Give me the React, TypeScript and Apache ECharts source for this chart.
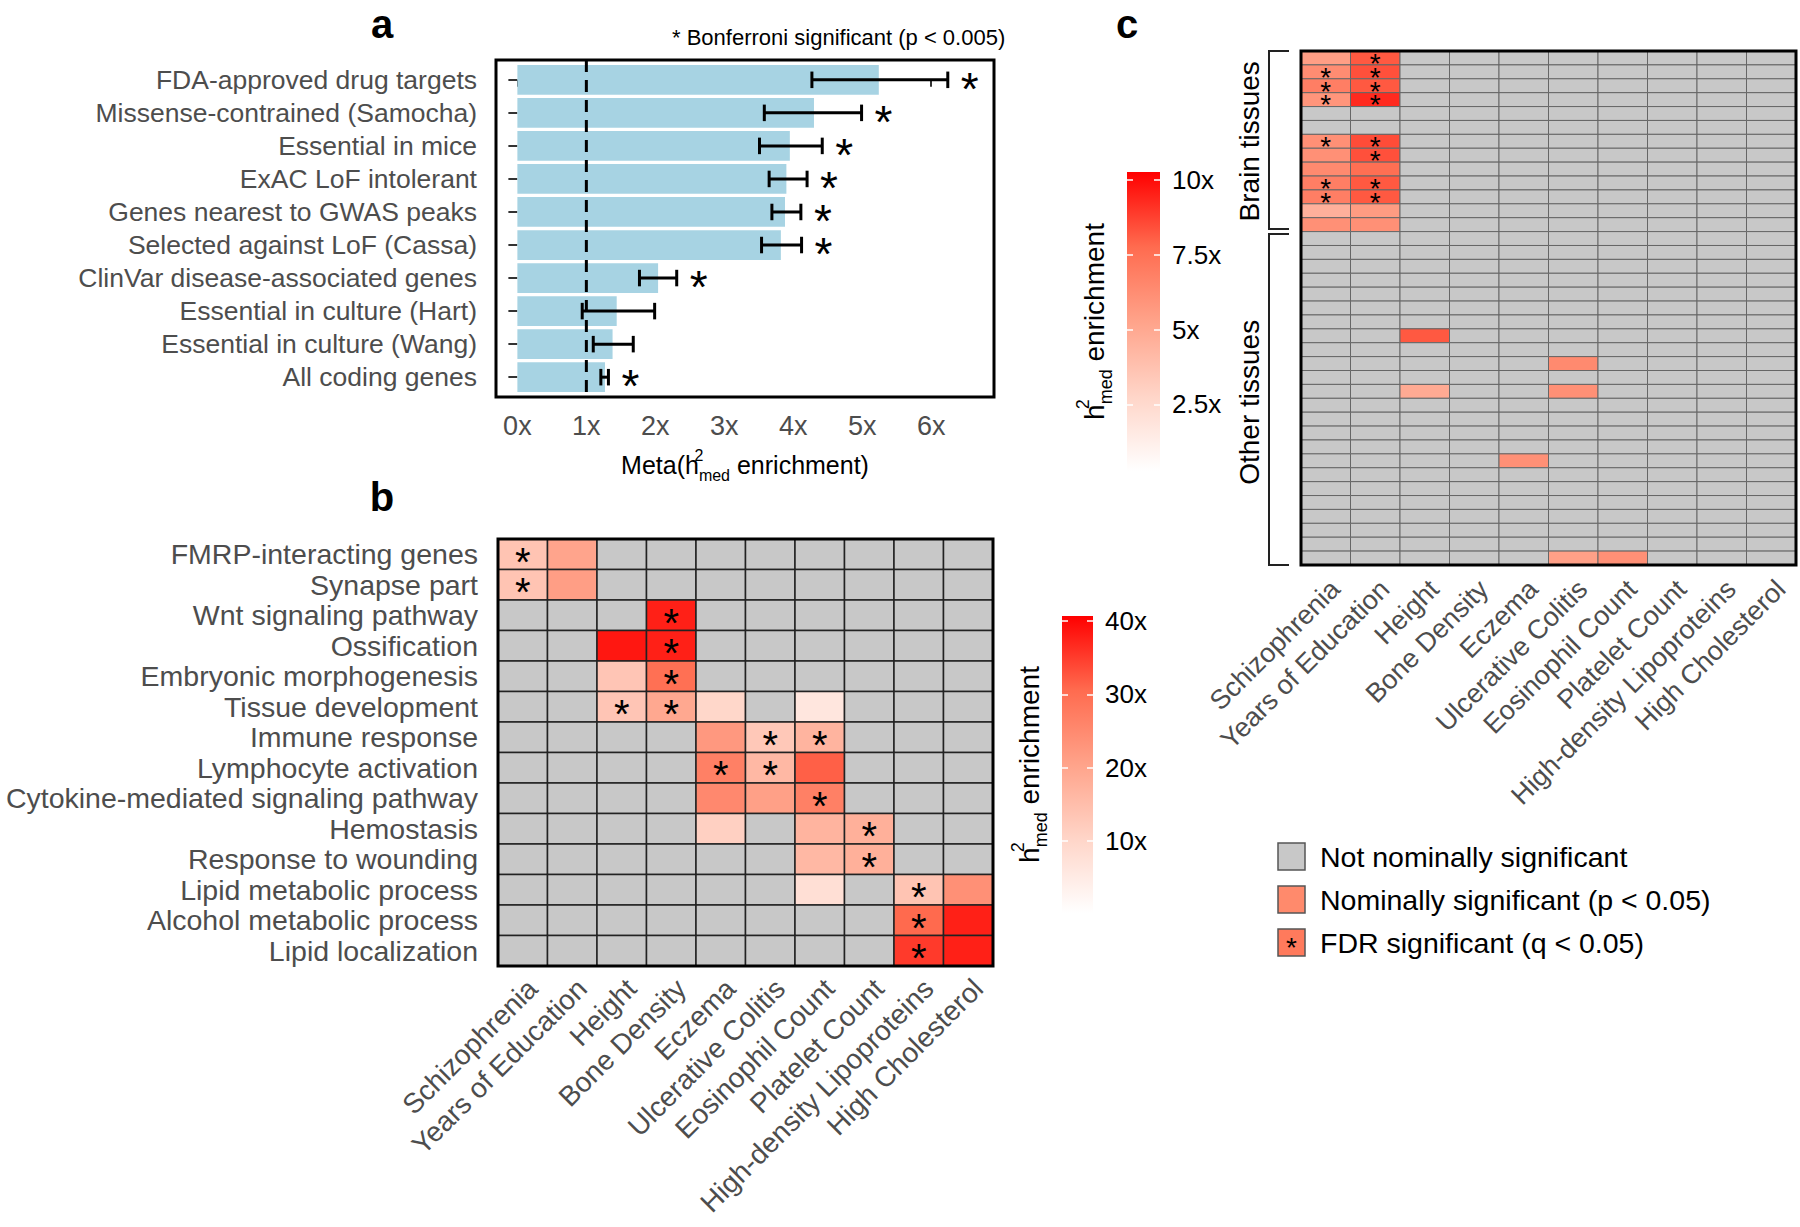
import React, { useEffect, useRef } from "react";
import * as echarts from "echarts";

const FONT = "'Liberation Sans', Arial, Helvetica, sans-serif";
const AXIS_GREY = "#4D4D4D";
const CELL_GREY = "#C8C8C8";
const COLOR_STOPS = ["#FFFFFF", "#FFD5C8", "#FFA38A", "#FF6B4F", "#FF0000"];

// ---------- Panel a ----------
const geneSets = [
  "FDA-approved drug targets",
  "Missense-contrained (Samocha)",
  "Essential in mice",
  "ExAC LoF intolerant",
  "Genes nearest to GWAS peaks",
  "Selected against LoF (Cassa)",
  "ClinVar disease-associated genes",
  "Essential in culture (Hart)",
  "Essential in culture (Wang)",
  "All coding genes",
];
const metaEnrichment = [5.24, 4.3, 3.95, 3.9, 3.88, 3.82, 2.04, 1.44, 1.38, 1.27];
const ciLower = [4.27, 3.58, 3.51, 3.65, 3.69, 3.54, 1.77, 0.94, 1.1, 1.21];
const ciUpper = [6.24, 4.99, 4.42, 4.2, 4.11, 4.12, 2.31, 1.99, 1.68, 1.32];
const bonferroniSignificant = [1, 1, 1, 1, 1, 1, 1, 0, 0, 1];
const enrichmentTicks = [0, 1, 2, 3, 4, 5, 6];
const nullEnrichment = 1;

// ---------- Panel b ----------
const goTerms = [
  "FMRP-interacting genes",
  "Synapse part",
  "Wnt signaling pathway",
  "Ossification",
  "Embryonic morphogenesis",
  "Tissue development",
  "Immune response",
  "Lymphocyte activation",
  "Cytokine-mediated signaling pathway",
  "Hemostasis",
  "Response to wounding",
  "Lipid metabolic process",
  "Alcohol metabolic process",
  "Lipid localization",
];
const traits = [
  "Schizophrenia",
  "Years of Education",
  "Height",
  "Bone Density",
  "Eczema",
  "Ulcerative Colitis",
  "Eosinophil Count",
  "Platelet Count",
  "High-density Lipoproteins",
  "High Cholesterol",
];
const N = null;
const goEnrichment = [
  [13.8, 20.2, N, N, N, N, N, N, N, N],
  [13.8, 21.3, N, N, N, N, N, N, N, N],
  [N, N, N, 37.7, N, N, N, N, N, N],
  [N, N, 38.5, 37.7, N, N, N, N, N, N],
  [N, N, 13.5, 29.7, N, N, N, N, N, N],
  [N, N, 13.5, 19.4, 9.9, N, 6.3, N, N, N],
  [N, N, N, N, 22.4, 13.0, 17.0, N, N, N],
  [N, N, N, N, 26.8, 16.2, 31.6, N, N, N],
  [N, N, N, N, 25.3, 21.0, 26.8, N, N, N],
  [N, N, N, N, 11.3, N, 17.0, 17.8, N, N],
  [N, N, N, N, N, N, 16.2, 17.8, N, N],
  [N, N, N, N, N, N, 7.9, N, 13.8, 23.9],
  [N, N, N, N, N, N, N, N, 30.7, 37.7],
  [N, N, N, N, N, N, N, N, 35.2, 37.7],
];
const goFdrStars = [
  [0, 0], [1, 0], [2, 3], [3, 3], [4, 3], [5, 2], [5, 3], [6, 5], [6, 6],
  [7, 4], [7, 5], [8, 6], [9, 7], [10, 7], [11, 8], [12, 8], [13, 8],
];
const goScaleTicks = [10, 20, 30, 40];
const goScaleRange = [0.2, 40.7];

// ---------- Panel c ----------
const brainTissueCount = 13;
const otherTissueCount = 24;
const brainSchizophrenia = [5.5, 6.3, 6.9, 5.9, N, N, 6.1, 6.1, 6.4, 6.9, 6.9, 4.6, 6.1];
const brainEducation = [8.2, 8.4, 8.2, 9.3, N, N, 8.5, 8.4, 7.6, 8.2, 8.2, 5.6, 6.1];
const brainSchizophreniaStars = [1, 2, 3, 6, 9, 10];
const brainEducationStars = [0, 1, 2, 3, 6, 7, 9, 10];
// [other-tissue row, trait column, enrichment]
const otherTissueCells = [
  [7, 2, 8.2],
  [9, 5, 6.4],
  [11, 2, 4.9],
  [11, 5, 6.1],
  [16, 4, 6.1],
  [23, 5, 5.4],
  [23, 6, 6.1],
];
const tissueScaleTicks = [2.5, 5, 7.5, 10];
const tissueScaleRange = [0.27, 10.27];
const legendLabels = [
  "Not nominally significant",
  "Nominally significant (p < 0.05)",
  "FDR significant (q < 0.05)",
];

// ---------- layout ----------
const A_GRID = { left: 496, top: 60, width: 498, height: 337 };
const B_GRID = { left: 498, top: 539, width: 495, height: 427 };
const C_GRID = { left: 1301, top: 51, width: 495, height: 514 };
const CB_B = { left: 1062, top: 616, width: 31, height: 297 };
const CB_C = { left: 1127, top: 172, width: 33, height: 299 };
const A_X_RANGE = [-0.31, 6.91];
const A_Y_RANGE = [-0.6, 9.6];

function enrichColor(v: number, range: number[]) {
  let t = (v - range[0]) / (range[1] - range[0]);
  t = Math.max(0, Math.min(1, t));
  return echarts.color.lerp(t, COLOR_STOPS) as string;
}

function hmedRich(base: number, sub: number) {
  const lh = Math.round(base * 1.45);
  return {
    t: { fontSize: base, fontFamily: FONT, color: "#000", lineHeight: lh, verticalAlign: "middle" },
    sup: { fontSize: sub, fontFamily: FONT, color: "#000", lineHeight: sub, verticalAlign: "top", width: 0 },
    sub: { fontSize: sub, fontFamily: FONT, color: "#000", lineHeight: sub, verticalAlign: "bottom" },
  };
}

function heatRender(range: number[], stroke: string, lw: number, starFont: number, starLH: number) {
  return (params: any, api: any) => {
    const c = api.coord([api.value(0), api.value(1)]);
    const s = api.size([1, 1]);
    const v = api.value(2);
    const fill = v < 0 ? CELL_GREY : enrichColor(v, range);
    const children: any[] = [
      {
        type: "rect",
        shape: { x: c[0] - s[0] / 2, y: c[1] - s[1] / 2, width: s[0], height: s[1] },
        style: { fill, stroke, lineWidth: lw },
      },
    ];
    if (api.value(3) > 0) {
      children.push({
        type: "text",
        style: {
          text: "*",
          x: c[0],
          y: c[1] + starFont * 0.19,
          fill: "#000",
          fontSize: starFont,
          lineHeight: starLH,
          fontFamily: FONT,
          align: "center",
          verticalAlign: "middle",
        },
      });
    }
    return { type: "group", children };
  };
}

function colorbarRender(params: any, api: any) {
  const top = api.coord([0, api.value(2)]);
  const bot = api.coord([0, api.value(1)]);
  const w = api.size([1, 0])[0];
  return {
    type: "rect",
    shape: { x: top[0] - w / 2, y: top[1], width: w, height: bot[1] - top[1] },
    style: {
      fill: new echarts.graphic.LinearGradient(
        0, 1, 0, 0,
        COLOR_STOPS.map((color, i) => ({ offset: i / (COLOR_STOPS.length - 1), color }))
      ),
    },
  };
}

function buildOption() {
  // panel a data
  const barData = geneSets.map((_, i) => [i, metaEnrichment[i]]);
  const errData = geneSets.map((_, i) => [i, ciLower[i], ciUpper[i], bonferroniSignificant[i]]);
  const rowIdx = geneSets.map((_, i) => i);

  // panel b data
  const bData: any[] = [];
  goEnrichment.forEach((row, r) =>
    row.forEach((v, c) => {
      const star = goFdrStars.some(([sr, sc]) => sr === r && sc === c) ? 1 : 0;
      bData.push([c, r, v == null ? -1 : v, star]);
    })
  );

  // panel c data
  const tissueNames: string[] = [];
  for (let i = 0; i < brainTissueCount; i++) tissueNames.push("Brain tissue " + (i + 1));
  for (let i = 0; i < otherTissueCount; i++) tissueNames.push("Other tissue " + (i + 1));
  const cData: any[] = [];
  tissueNames.forEach((_, r) => {
    traits.forEach((__, c) => {
      let v: number | null = null;
      let star = 0;
      if (r < brainTissueCount) {
        if (c === 0) {
          v = brainSchizophrenia[r];
          star = brainSchizophreniaStars.includes(r) ? 1 : 0;
        } else if (c === 1) {
          v = brainEducation[r];
          star = brainEducationStars.includes(r) ? 1 : 0;
        }
      } else {
        const cell = otherTissueCells.find(([o, t]) => o === r - brainTissueCount && t === c);
        if (cell) v = cell[2];
      }
      cData.push([c, r, v == null ? -1 : v, star]);
    });
  });

  const rowH = C_GRID.height / (brainTissueCount + otherTissueCount);
  const brainEnd = C_GRID.top + brainTissueCount * rowH;
  const cBottom = C_GRID.top + C_GRID.height;
  const brX = C_GRID.left - 32;
  const brTip = C_GRID.left - 12;

  const gridBase = { show: true, borderColor: "#000", borderWidth: 3, backgroundColor: "transparent", z: 10 };

  const colLabel = (size: number, margin: number) => ({
    interval: 0,
    rotate: 45,
    align: "right",
    verticalAlign: "top",
    margin,
    color: AXIS_GREY,
    fontSize: size,
    fontFamily: FONT,
  });

  const legendFills = [CELL_GREY, "#FF8A6C", "#FF7A5C"];
  const LEG_X = 1278;
  const LEG_Y0 = 843;
  const LEG_DY = 43;
  const SQ = 27;

  const panelLabel = (text: string, x: number, y: number) => ({
    type: "text",
    x,
    y,
    style: { text, fontSize: 40, lineHeight: 40, fontWeight: "bold", fontFamily: FONT, fill: "#000", align: "center", verticalAlign: "middle" },
  });

  const graphic: any[] = [
    panelLabel("a", 382, 24),
    panelLabel("b", 382, 497),
    panelLabel("c", 1127, 24),
    { type: "text", x: 672, y: 37, style: { text: "* Bonferroni significant (p < 0.005)", fontSize: 22, fontFamily: FONT, fill: "#000", align: "left", verticalAlign: "middle" } },
    {
      type: "polyline",
      shape: { points: [[brTip, C_GRID.top], [brX, C_GRID.top], [brX, brainEnd - 2.5], [brTip, brainEnd - 2.5]] },
      style: { stroke: "#222", lineWidth: 2, fill: "none" },
    },
    {
      type: "polyline",
      shape: { points: [[brTip, brainEnd + 2.5], [brX, brainEnd + 2.5], [brX, cBottom], [brTip, cBottom]] },
      style: { stroke: "#222", lineWidth: 2, fill: "none" },
    },
    {
      type: "text", x: brX - 20, y: (C_GRID.top + brainEnd) / 2, rotation: Math.PI / 2,
      style: { text: "Brain tissues", fontSize: 28, fontFamily: FONT, fill: "#000", align: "center", verticalAlign: "middle" },
    },
    {
      type: "text", x: brX - 20, y: (brainEnd + cBottom) / 2 + 4, rotation: Math.PI / 2,
      style: { text: "Other tissues", fontSize: 28, fontFamily: FONT, fill: "#000", align: "center", verticalAlign: "middle" },
    },
  ];
  legendLabels.forEach((label, i) => {
    const y = LEG_Y0 + i * LEG_DY;
    graphic.push({
      type: "rect",
      shape: { x: LEG_X, y, width: SQ, height: SQ },
      style: { fill: legendFills[i], stroke: "#555", lineWidth: 1.5 },
    });
    if (i === 2) {
      graphic.push({
        type: "text", x: LEG_X + SQ / 2, y: y + SQ / 2 + 5,
        style: { text: "*", fontSize: 28, lineHeight: 20, fontFamily: FONT, fill: "#000", align: "center", verticalAlign: "middle" },
      });
    }
    graphic.push({
      type: "text", x: LEG_X + SQ + 15, y: y + SQ / 2,
      style: { text: label, fontSize: 28.5, fontFamily: FONT, fill: "#000", align: "left", verticalAlign: "middle" },
    });
  });

  const cbYAxis = (gridIndex: number, range: number[], ticks: number[], side: "left" | "right") => ({
    gridIndex,
    type: "value",
    position: side,
    min: range[0],
    max: range[1],
    z: 5,
    axisLine: { show: false },
    splitLine: { show: false },
    axisTick: { show: true, inside: true, length: 6, customValues: ticks, lineStyle: { color: "#fff", width: 1.5 } },
    axisLabel:
      side === "right"
        ? { show: true, customValues: ticks, formatter: (v: number) => v + "x", color: "#000", fontSize: 26, fontFamily: FONT, margin: 12 }
        : { show: false },
    name: side === "left" ? "{t|h}{sup|2}{sub|med}{t| enrichment}" : "",
    nameLocation: "middle",
    nameRotate: 90,
    nameGap: 12,
    nameTextStyle: { rich: hmedRich(28, 18) },
  });

  return {
    animation: false,
    backgroundColor: "#fff",
    textStyle: { fontFamily: FONT },
    grid: [
      { ...A_GRID, ...gridBase },
      { ...B_GRID, ...gridBase },
      { ...C_GRID, ...gridBase },
      { ...CB_B, show: false },
      { ...CB_C, show: false },
    ],
    xAxis: [
      {
        gridIndex: 0,
        type: "value",
        min: A_X_RANGE[0],
        max: A_X_RANGE[1],
        axisLine: { show: false },
        splitLine: { show: false },
        axisTick: { show: true, customValues: enrichmentTicks, length: 7, lineStyle: { color: "#333", width: 2 } },
        axisLabel: { customValues: enrichmentTicks, formatter: (v: number) => v + "x", color: AXIS_GREY, fontSize: 27, fontFamily: FONT, margin: 15 },
        name: "{t|Meta(h}{sup|2}{sub|med}{t| enrichment)}",
        nameLocation: "middle",
        nameGap: 50,
        nameTextStyle: { rich: hmedRich(25, 16) },
      },
      {
        gridIndex: 1,
        type: "category",
        data: traits,
        axisLine: { show: false },
        axisTick: { show: false },
        axisLabel: colLabel(28, 8),
      },
      {
        gridIndex: 2,
        type: "category",
        data: traits,
        axisLine: { show: false },
        axisTick: { show: false },
        axisLabel: colLabel(27, 10),
      },
      { gridIndex: 3, type: "category", data: ["scale"], show: false },
      { gridIndex: 4, type: "category", data: ["scale"], show: false },
    ],
    yAxis: [
      {
        gridIndex: 0,
        type: "value",
        inverse: true,
        min: A_Y_RANGE[0],
        max: A_Y_RANGE[1],
        axisLine: { show: false },
        splitLine: { show: false },
        axisTick: { show: true, customValues: rowIdx, length: 9, lineStyle: { color: "#333", width: 2 } },
        axisLabel: {
          customValues: rowIdx,
          formatter: (v: number) => geneSets[Math.round(v)],
          color: AXIS_GREY,
          fontSize: 26.5,
          fontFamily: FONT,
          margin: 19,
        },
      },
      {
        gridIndex: 1,
        type: "category",
        data: goTerms,
        inverse: true,
        axisLine: { show: false },
        axisTick: { show: false },
        axisLabel: { interval: 0, color: AXIS_GREY, fontSize: 28.5, fontFamily: FONT, margin: 20 },
      },
      {
        gridIndex: 2,
        type: "category",
        data: tissueNames,
        inverse: true,
        axisLine: { show: false },
        axisTick: { show: false },
        axisLabel: { show: false },
      },
      cbYAxis(3, goScaleRange, goScaleTicks, "left"),
      cbYAxis(3, goScaleRange, goScaleTicks, "right"),
      cbYAxis(4, tissueScaleRange, tissueScaleTicks, "left"),
      cbYAxis(4, tissueScaleRange, tissueScaleTicks, "right"),
    ],
    series: [
      {
        type: "custom",
        xAxisIndex: 0,
        yAxisIndex: 0,
        data: barData,
        encode: { x: 1, y: 0 },
        z: 2,
        silent: true,
        renderItem: (params: any, api: any) => {
          const i = api.value(0);
          const m = api.value(1);
          const p0 = api.coord([0, i - 0.45]);
          const p1 = api.coord([m, i + 0.45]);
          return {
            type: "rect",
            shape: { x: p0[0], y: Math.min(p0[1], p1[1]), width: p1[0] - p0[0], height: Math.abs(p1[1] - p0[1]) },
            style: { fill: "#A7D3E3" },
          };
        },
      },
      {
        type: "line",
        xAxisIndex: 0,
        yAxisIndex: 0,
        data: [[nullEnrichment, A_Y_RANGE[0]], [nullEnrichment, A_Y_RANGE[1]]],
        symbol: "none",
        silent: true,
        z: 3,
        lineStyle: { color: "#000", width: 3, type: [12, 8] },
      },
      {
        type: "custom",
        xAxisIndex: 0,
        yAxisIndex: 0,
        data: errData,
        encode: { x: [1, 2], y: 0 },
        z: 4,
        silent: true,
        renderItem: (params: any, api: any) => {
          const i = api.value(0);
          const pl = api.coord([api.value(1), i]);
          const ph = api.coord([api.value(2), i]);
          const cap = Math.abs(api.size([0, 0.25])[1]);
          const st = { stroke: "#000", lineWidth: 3 };
          const children: any[] = [
            { type: "line", shape: { x1: pl[0], y1: pl[1], x2: ph[0], y2: ph[1] }, style: st },
            { type: "line", shape: { x1: pl[0], y1: pl[1] - cap, x2: pl[0], y2: pl[1] + cap }, style: st },
            { type: "line", shape: { x1: ph[0], y1: ph[1] - cap, x2: ph[0], y2: ph[1] + cap }, style: st },
          ];
          if (api.value(3) > 0) {
            children.push({
              type: "text",
              style: {
                text: "*",
                x: ph[0] + 22,
                y: ph[1] + 9,
                fill: "#000",
                fontSize: 46,
                lineHeight: 28,
                fontFamily: FONT,
                align: "center",
                verticalAlign: "middle",
              },
            });
          }
          return { type: "group", children };
        },
      },
      {
        type: "custom",
        xAxisIndex: 1,
        yAxisIndex: 1,
        data: bData,
        encode: { x: 0, y: 1 },
        silent: true,
        renderItem: heatRender(goScaleRange, "#222", 1.5, 40, 28),
      },
      {
        type: "custom",
        xAxisIndex: 2,
        yAxisIndex: 2,
        data: cData,
        encode: { x: 0, y: 1 },
        silent: true,
        renderItem: heatRender(tissueScaleRange, "#666", 1, 28, 13),
      },
      {
        type: "custom",
        xAxisIndex: 3,
        yAxisIndex: 3,
        data: [[0, goScaleRange[0], goScaleRange[1]]],
        encode: { x: 0, y: [1, 2] },
        silent: true,
        renderItem: colorbarRender,
      },
      {
        type: "custom",
        xAxisIndex: 4,
        yAxisIndex: 5,
        data: [[0, tissueScaleRange[0], tissueScaleRange[1]]],
        encode: { x: 0, y: [1, 2] },
        silent: true,
        renderItem: colorbarRender,
      },
    ],
    graphic,
  };
}

export default function App() {
  const ref = useRef<HTMLDivElement>(null);
  useEffect(() => {
    document.body.style.margin = "0";
    const chart = echarts.init(ref.current as HTMLDivElement, null, { renderer: "svg" });
    chart.setOption(buildOption() as any);
    return () => chart.dispose();
  }, []);
  return <div ref={ref} style={{ width: 1800, height: 1227, background: "#fff" }} />;
}
